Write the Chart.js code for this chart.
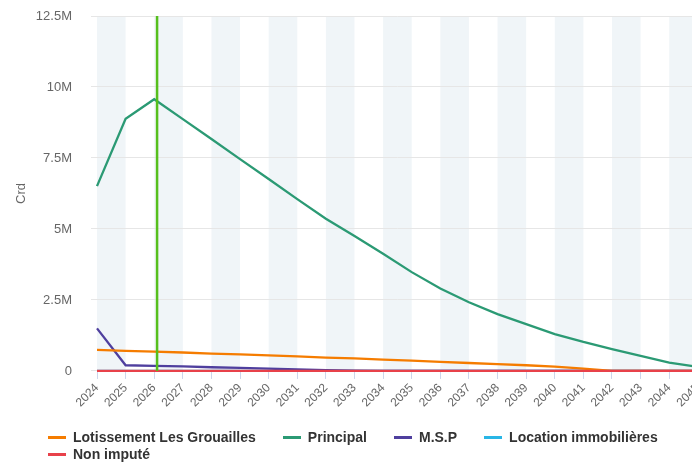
<!DOCTYPE html>
<html>
<head>
<meta charset="utf-8">
<script src="https://cdn.jsdelivr.net/npm/chart.js@4/dist/chart.umd.min.js"></script>
<style>
  html, body { margin: 0; padding: 0; background: #fff; overflow: hidden; }
  #wrap { position: relative; width: 710px; height: 462px; }
  #legend { position: absolute; left: 48px; top: 429px; width: 640px; display: flex; flex-wrap: wrap; column-gap: 27px;
            font: bold 14px "Liberation Sans", Arial, sans-serif; color: #333; line-height: 17px; }
  #legend .item { display: flex; align-items: center; white-space: nowrap; }
  #legend .sym { width: 18px; height: 2.5px; margin-right: 7px; }
</style>
</head>
<body>
<div id="wrap">
  <canvas id="chart"></canvas>
  <div id="legend"></div>
</div>
<script>
// values in millions
const years = ['2024','2025','2026','2027','2028','2029','2030','2031','2032','2033','2034',
               '2035','2036','2037','2038','2039','2040','2041','2042','2043','2044','2045'];
const lotissement = [0.74, 0.71, 0.68, 0.65, 0.61, 0.58, 0.55, 0.51, 0.47, 0.44, 0.40,
                     0.36, 0.32, 0.28, 0.24, 0.20, 0.15, 0.08, 0, 0, 0, 0];
const principal = [6.51, 8.88, 9.57, 8.87, 8.17, 7.46, 6.76, 6.05, 5.36, 4.75, 4.13,
                   3.48, 2.90, 2.42, 2.00, 1.65, 1.30, 1.02, 0.77, 0.53, 0.29, 0.14];
const msp = [1.5, 0.2, 0.18, 0.16, 0.13, 0.11, 0.08, 0.05, 0.03, 0.01, 0,
             0, 0, 0, 0, 0, 0, 0, 0, 0, 0, 0];
const location_ = [0, 0, 0, 0, 0, 0, 0, 0, 0, 0, 0, 0, 0, 0, 0, 0, 0, 0, 0, 0, 0, 0];
const nonImpute = [0, 0, 0, 0, 0, 0, 0, 0, 0, 0, 0, 0, 0, 0, 0, 0, 0, 0, 0, 0, 0, 0];
const yTicks = [0, 2.5, 5, 7.5, 10, 12.5];
const todayYear = 2026.1;

Chart.defaults.font.family = '"Liberation Sans", Arial, sans-serif';

// alternating year bands
const bands = {
  id: 'bands',
  beforeDraw(chart) {
    const { ctx, chartArea, scales: { x } } = chart;
    ctx.save();
    ctx.fillStyle = '#f0f5f8';
    for (let i = 0; i < years.length; i += 2) {
      const x0 = x.getPixelForValue(i), x1 = x.getPixelForValue(i + 1);
      ctx.fillRect(x0, chartArea.top, x1 - x0, chartArea.bottom - chartArea.top);
    }
    ctx.restore();
  }
};

// "today" marker
const todayLine = {
  id: 'todayLine',
  afterDatasetsDraw(chart) {
    const { ctx, chartArea, scales: { x } } = chart;
    const px = x.getPixelForValue(todayYear - Number(years[0]));
    ctx.save();
    ctx.strokeStyle = '#56bf1c';
    ctx.lineWidth = 2.5;
    ctx.beginPath();
    ctx.moveTo(px, chartArea.top);
    ctx.lineTo(px, chartArea.bottom);
    ctx.stroke();
    ctx.restore();
  }
};

function ds(label, data, color, order) {
  return { label, data, borderColor: color, backgroundColor: color, borderWidth: 2.3,
           pointRadius: 0, tension: 0, order, clip: false };
}

const chart = new Chart(document.getElementById('chart'), {
  type: 'line',
  data: {
    labels: years,
    datasets: [
      ds('Lotissement Les Grouailles', lotissement, '#f57c00', 2),
      ds('Principal', principal, '#2b9a74', 1),
      ds('M.S.P', msp, '#4f3f9e', 3),
      ds('Location immobilières', location_, '#29b6e6', 4),
      ds('Non imputé', nonImpute, '#e8414a', 0)
    ]
  },
  options: {
    responsive: true,
    maintainAspectRatio: false,
    animation: false,
    layout: { padding: { top: 0, bottom: 50, right: 0, left: 0 } },
    plugins: { legend: { display: false }, tooltip: { enabled: false } },
    scales: {
      x: {
        grid: { drawOnChartArea: false, color: '#ccd6eb', tickLength: 8 },
        border: { color: '#ccd6eb' },
        ticks: { color: '#666', font: { size: 12 }, minRotation: 45, maxRotation: 45, autoSkip: false, padding: 2 }
      },
      y: {
        min: yTicks[0], max: yTicks[yTicks.length - 1],
        afterBuildTicks: s => { s.ticks = yTicks.map(v => ({ value: v })); },
        ticks: { color: '#666', font: { size: 13 }, padding: 19, callback: v => v === 0 ? '0' : v + 'M' },
        grid: { color: '#e6e6e6', tickLength: 6 },
        border: { display: false },
        title: { display: true, text: 'Crd', color: '#666', font: { size: 13 }, padding: { top: 14, bottom: 0 } },
        afterFit: s => { s.width = 97; s.paddingTop = 16; }
      }
    }
  },
  plugins: [bands, todayLine]
});

const legendEl = document.getElementById('legend');
chart.data.datasets.forEach(d => {
  const item = document.createElement('span');
  item.className = 'item';
  item.innerHTML = `<span class="sym" style="background:${d.borderColor}"></span>${d.label}`;
  legendEl.appendChild(item);
});
</script>
</body>
</html>
